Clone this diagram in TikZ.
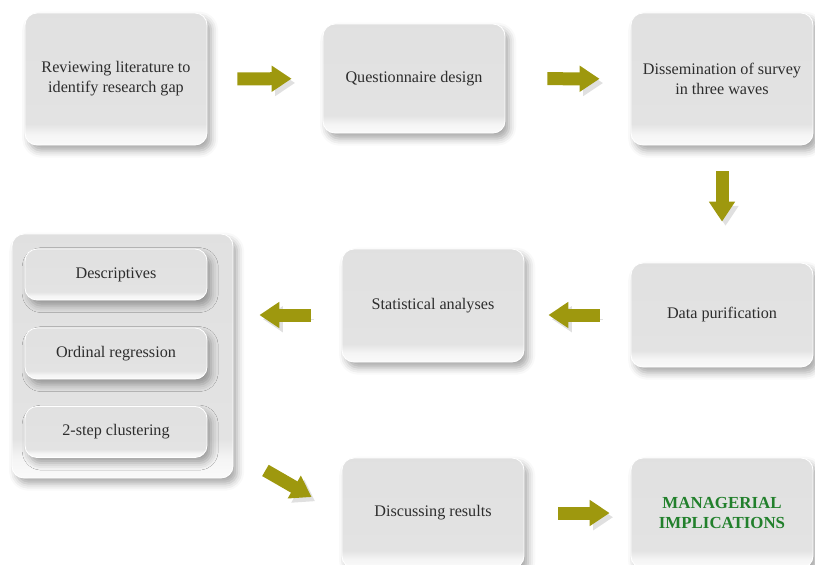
\documentclass[tikz,border=0pt]{standalone}
\usepackage{fontspec}
\setmainfont{Liberation Serif}
\usepackage{xcolor}
\usepackage{tikz}
\usetikzlibrary{arrows.meta,calc,shadows.blur}

\definecolor{arrowolive}{RGB}{158,152,14}
\definecolor{textgray}{RGB}{45,45,45}
\definecolor{mgrgreen}{RGB}{34,128,44}
\pgfdeclareverticalshading{glossy}{100bp}{color(0bp)=(black!2); color(25bp)=(black!2); color(29bp)=(black!4); color(33bp)=(black!11); color(75bp)=(black!12); color(100bp)=(black!12)}

\begin{document}
\begin{tikzpicture}[
  box/.style={rectangle, rounded corners=0.3cm, shading=glossy, draw=white, line width=0.6pt,
    minimum width=4.55cm, align=center, text=textgray,
    font=\fontsize{11.5}{14.2}\selectfont,
    blur shadow={shadow xshift=3pt, shadow yshift=-4pt, shadow blur radius=5pt, shadow opacity=35}},
  flow/.style={line width=0.325cm, draw=arrowolive, -{Triangle[width=0.625cm,length=0.5cm]},
    preaction={draw=black!12, transform canvas={shift={(2.5pt,-3pt)}}}}
]
\useasboundingbox (0,0) rectangle (20.375,-14.1);

\node[box, minimum height=3.3cm] (lit) at (2.9,-1.975) {Reviewing literature to\\identify research gap};
\node[box, minimum height=2.725cm] (quest) at (10.35,-1.9625) {Questionnaire design};
\node[box, minimum height=3.3cm] (diss) at (18.05,-1.975) {Dissemination of survey\\in three waves};
\node[box, minimum height=2.6cm] (pur) at (18.05,-7.875) {Data purification};
\node[box, minimum height=2.825cm] (stat) at (10.825,-7.6375) {Statistical analyses};

\node[box, minimum width=5.525cm, minimum height=6.1cm] (group) at (3.0625,-8.9) {};
\node[box, minimum height=1.275cm] (desc) at (2.9,-6.8625) {Descriptives};
\node[box, minimum height=1.275cm] (ord) at (2.9,-8.8375) {Ordinal regression};
\node[box, minimum height=1.275cm] (clus) at (2.9,-10.8) {2-step clustering};

\node[box, minimum height=2.75cm] (disc) at (10.825,-12.825) {Discussing results};
\node[box, minimum height=2.75cm, text=mgrgreen, font=\fontsize{12}{14.2}\selectfont\bfseries] (mgr) at (18.05,-12.825) {MANAGERIAL\\IMPLICATIONS};

\coordinate (dtail) at ($(group.south east)+(0.8,0.2)$);
\coordinate (dtip) at ($(disc.west)+(-0.75,0.4)$);

\draw[flow, shorten <=0.75cm, shorten >=0.775cm] (lit) -- (quest);
\draw[flow, shorten <=1.05cm, shorten >=0.775cm] (quest) -- (diss);
\draw[flow, shorten <=0.65cm, shorten >=1.025cm] (diss) -- (pur);
\draw[flow, shorten <=0.775cm, shorten >=0.6cm] (pur.west) -- (stat.east |- pur.west);
\draw[flow, shorten <=0.775cm, shorten >=0.65cm] (stat.west |- pur.west) -- (group.east |- pur.west);
\draw[flow] (dtail) -- (dtip);
\draw[flow, shorten <=0.85cm, shorten >=0.525cm] (disc) -- (mgr);
\end{tikzpicture}
\end{document}
